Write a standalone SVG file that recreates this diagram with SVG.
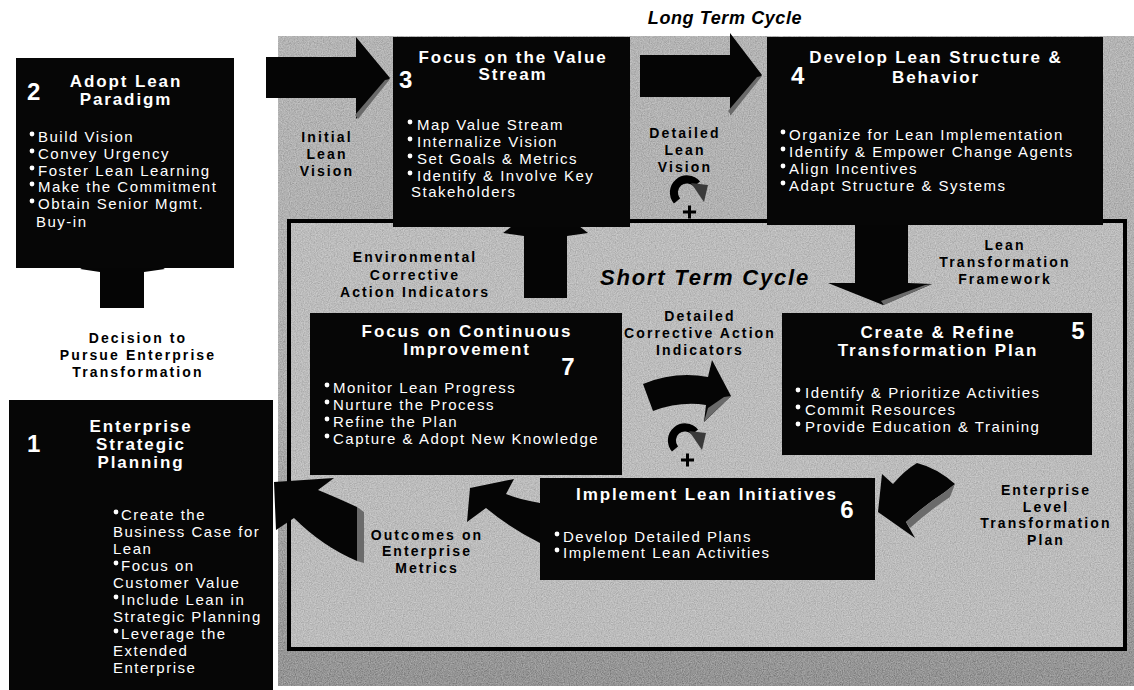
<svg xmlns="http://www.w3.org/2000/svg" width="1134" height="690" viewBox="0 0 1134 690">
<style>
.box{fill:#060606}
.t{font-family:"Liberation Sans",Arial,sans-serif;font-weight:bold;font-size:17px;fill:#fff;letter-spacing:1.9px;text-anchor:middle}
.b{font-family:"Liberation Sans",Arial,sans-serif;font-size:15px;fill:#fff;letter-spacing:1.5px}
.n{font-family:"Liberation Sans",Arial,sans-serif;font-weight:bold;font-size:24px;fill:#fff}
.l{font-family:"Liberation Sans",Arial,sans-serif;font-weight:bold;font-size:14px;fill:#000;letter-spacing:2.1px;text-anchor:middle}
.h{font-family:"Liberation Sans",Arial,sans-serif;font-weight:bold;font-style:italic;fill:#000;text-anchor:middle}
.dot{fill:#fff}
.arr{fill:#050505}
.bev{fill:#6a6a6a}
</style>
<defs>
<linearGradient id="outerG" x1="0" y1="0" x2="0" y2="1">
<stop offset="0" stop-color="#a3a3a3"/>
<stop offset="0.55" stop-color="#999999"/>
<stop offset="1" stop-color="#626262"/>
</linearGradient>
<filter id="grain" x="0" y="0" width="100%" height="100%">
<feTurbulence type="fractalNoise" baseFrequency="0.85" numOctaves="2" seed="4" result="n"/>
<feColorMatrix in="n" type="matrix" values="1 0 0 0 0.12  1 0 0 0 0.12  1 0 0 0 0.12  0 0 0 0 0.35" result="a"/>
<feComposite in="a" in2="SourceGraphic" operator="in" result="b"/>
<feMerge><feMergeNode in="SourceGraphic"/><feMergeNode in="b"/></feMerge>
</filter>
<g id="cyc">
<path d="M-13,9 A13,13 0 0 1 7,-8" stroke="#000" stroke-width="8" fill="none"/>
<polygon points="1,-9 18,-7 14,10" fill="#3a3a3a"/>
<path d="M-7,20h13M-0.5,13.5v13" stroke="#000" stroke-width="3"/>
</g>
</defs>
<rect width="1134" height="690" fill="#fff"/>
<g id="panels">
<rect x="278" y="36" width="856" height="650" fill="url(#outerG)" filter="url(#grain)"/>
<rect x="289" y="221" width="836" height="428" fill="#b0b0b0" filter="url(#grain)"/>
<rect x="289" y="221" width="836" height="428" fill="none" stroke="#000" stroke-width="4"/>
</g>
<g id="titles">
<text class="h" x="725" y="24" font-size="18" letter-spacing="0.6">Long Term Cycle</text>
<text class="h" x="705" y="285" font-size="22" letter-spacing="1.8">Short Term Cycle</text>
</g>
<g id="connectors">
<polygon class="arr" points="100,308 144,308 144,272 165,269 122,245 80,269 100,272"/>
<polygon class="arr" points="266,57 356,57 356,37 390,78 356,119 356,98 266,98"/>
<polygon class="bev" points="390,79 358,119 355,115 385,80"/>
<polygon class="arr" points="640,55 730,55 730,33 762,75 730,115 730,97 640,97"/>
<polygon class="bev" points="762,76 731,115 728,111 757,77"/>
<polygon class="arr" points="855,222 908,222 908,283 932,284 883,305 828,283 855,283"/>
<polygon class="bev" points="932,284 884,305 881,301 925,285"/>
<polygon class="arr" points="524,298 567,298 567,236 588,233 546,200 503,233 524,236"/>
<path class="arr" d="M643,384 Q675,371 708,377 L712,360 L731,396 L704,422 L706,405 Q680,401 653,411 Z"/>
<polygon class="bev" points="731,396 704,422 708,408 724,397"/>
<path class="arr" d="M917,463 Q937,468 955,484 L945,492 Q925,505 906,522 L915,538 L878,512 L882,474 L893,484 Q905,470 917,463 Z"/>
<path class="bev" d="M955,484 L945,492 Q925,505 906,522 L910,528 Q930,510 950,497 Z"/>
<path class="arr" d="M540,503 Q520,500 506,494 L514,479 L470,488 L467,522 L486,508 Q510,528 540,543 Z"/>
<path class="arr" d="M357,507 Q333,496 318,490 L334,478 L274,482 L276,530 L294,518 Q322,546 357,561 Z"/>
<polygon class="bev" points="357,507 364,512 364,563 357,561"/>
<use href="#cyc" x="690" y="192"/>
<use href="#cyc" x="688" y="440"/>
</g>
<g id="labels">
<text class="l" x="327" y="142">Initial</text>
<text class="l" x="327" y="159">Lean</text>
<text class="l" x="327" y="176">Vision</text>
<text class="l" x="685" y="138">Detailed</text>
<text class="l" x="685" y="155">Lean</text>
<text class="l" x="685" y="172">Vision</text>
<text class="l" x="1005" y="250">Lean</text>
<text class="l" x="1005" y="267">Transformation</text>
<text class="l" x="1005" y="284">Framework</text>
<text class="l" x="415" y="262">Environmental</text>
<text class="l" x="415" y="280">Corrective</text>
<text class="l" x="415" y="297">Action Indicators</text>
<text class="l" x="700" y="321">Detailed</text>
<text class="l" x="700" y="338">Corrective Action</text>
<text class="l" x="700" y="355">Indicators</text>
<text class="l" x="427" y="540">Outcomes on</text>
<text class="l" x="427" y="556">Enterprise</text>
<text class="l" x="427" y="573">Metrics</text>
<text class="l" x="1046" y="495">Enterprise</text>
<text class="l" x="1046" y="512">Level</text>
<text class="l" x="1046" y="528">Transformation</text>
<text class="l" x="1046" y="545">Plan</text>
<text class="l" x="138" y="343">Decision to</text>
<text class="l" x="138" y="360">Pursue Enterprise</text>
<text class="l" x="138" y="377">Transformation</text>
</g>
<g id="node2">
<rect class="box" x="16" y="58" width="218" height="210"/>
<text class="n" x="27" y="100">2</text>
<text class="t" x="126" y="87">Adopt Lean</text>
<text class="t" x="126" y="105">Paradigm</text>
<circle class="dot" cx="32" cy="134" r="2.4"/><text class="b" x="38" y="142">Build Vision</text>
<circle class="dot" cx="32" cy="151" r="2.4"/><text class="b" x="38" y="159">Convey Urgency</text>
<circle class="dot" cx="32" cy="168" r="2.4"/><text class="b" x="38" y="176">Foster Lean Learning</text>
<circle class="dot" cx="32" cy="184" r="2.4"/><text class="b" x="38" y="192">Make the Commitment</text>
<circle class="dot" cx="32" cy="201" r="2.4"/><text class="b" x="38" y="209">Obtain Senior Mgmt.</text>
<text class="b" x="36" y="227">Buy-in</text>
</g>
<g id="node3">
<rect class="box" x="393" y="37" width="237" height="190"/>
<text class="n" x="399" y="88">3</text>
<text class="t" x="513" y="63">Focus on the Value</text>
<text class="t" x="513" y="80">Stream</text>
<circle class="dot" cx="410" cy="122" r="2.4"/><text class="b" x="417" y="130">Map Value Stream</text>
<circle class="dot" cx="410" cy="139" r="2.4"/><text class="b" x="417" y="147">Internalize Vision</text>
<circle class="dot" cx="410" cy="156" r="2.4"/><text class="b" x="417" y="164">Set Goals &amp; Metrics</text>
<circle class="dot" cx="410" cy="173" r="2.4"/><text class="b" x="417" y="181">Identify &amp; Involve Key</text>
<text class="b" x="411" y="197">Stakeholders</text>
</g>
<g id="node4">
<rect class="box" x="767" y="37" width="336" height="188"/>
<text class="n" x="791" y="84">4</text>
<text class="t" x="936" y="63">Develop Lean Structure &amp;</text>
<text class="t" x="936" y="83">Behavior</text>
<circle class="dot" cx="783" cy="132" r="2.4"/><text class="b" x="789" y="140">Organize for Lean Implementation</text>
<circle class="dot" cx="783" cy="149" r="2.4"/><text class="b" x="789" y="157">Identify &amp; Empower Change Agents</text>
<circle class="dot" cx="783" cy="166" r="2.4"/><text class="b" x="789" y="174">Align Incentives</text>
<circle class="dot" cx="783" cy="183" r="2.4"/><text class="b" x="789" y="191">Adapt Structure &amp; Systems</text>
</g>
<g id="node5">
<rect class="box" x="782" y="313" width="310" height="142"/>
<text class="n" x="1078" y="339" text-anchor="middle">5</text>
<text class="t" x="938" y="338">Create &amp; Refine</text>
<text class="t" x="938" y="356">Transformation Plan</text>
<circle class="dot" cx="798" cy="390" r="2.4"/><text class="b" x="805" y="398">Identify &amp; Prioritize Activities</text>
<circle class="dot" cx="798" cy="407" r="2.4"/><text class="b" x="805" y="415">Commit Resources</text>
<circle class="dot" cx="798" cy="424" r="2.4"/><text class="b" x="805" y="432">Provide Education &amp; Training</text>
</g>
<g id="node7">
<rect class="box" x="310" y="313" width="312" height="162"/>
<text class="n" x="568" y="375" text-anchor="middle">7</text>
<text class="t" x="467" y="337">Focus on Continuous</text>
<text class="t" x="467" y="355">Improvement</text>
<circle class="dot" cx="327" cy="385" r="2.4"/><text class="b" x="333" y="393">Monitor Lean Progress</text>
<circle class="dot" cx="327" cy="402" r="2.4"/><text class="b" x="333" y="410">Nurture the Process</text>
<circle class="dot" cx="327" cy="419" r="2.4"/><text class="b" x="333" y="427">Refine the Plan</text>
<circle class="dot" cx="327" cy="436" r="2.4"/><text class="b" x="333" y="444">Capture &amp; Adopt New Knowledge</text>
</g>
<g id="node6">
<rect class="box" x="540" y="478" width="335" height="102"/>
<text class="n" x="847" y="518" text-anchor="middle">6</text>
<text class="t" x="707" y="500">Implement Lean Initiatives</text>
<circle class="dot" cx="557" cy="534" r="2.4"/><text class="b" x="563" y="542">Develop Detailed Plans</text>
<circle class="dot" cx="557" cy="550" r="2.4"/><text class="b" x="563" y="558">Implement Lean Activities</text>
</g>
<g id="node1">
<rect class="box" x="9" y="400" width="264" height="290"/>
<text class="n" x="27" y="452">1</text>
<text class="t" x="141" y="432">Enterprise</text>
<text class="t" x="141" y="450">Strategic</text>
<text class="t" x="141" y="468">Planning</text>
<circle class="dot" cx="116" cy="512" r="2.4"/><text class="b" x="121" y="520">Create the</text>
<text class="b" x="113" y="537">Business Case for</text>
<text class="b" x="113" y="554">Lean</text>
<circle class="dot" cx="116" cy="563" r="2.4"/><text class="b" x="121" y="571">Focus on</text>
<text class="b" x="113" y="588">Customer Value</text>
<circle class="dot" cx="116" cy="597" r="2.4"/><text class="b" x="121" y="605">Include Lean in</text>
<text class="b" x="113" y="622">Strategic Planning</text>
<circle class="dot" cx="116" cy="631" r="2.4"/><text class="b" x="121" y="639">Leverage the</text>
<text class="b" x="113" y="656">Extended</text>
<text class="b" x="113" y="673">Enterprise</text>
</g>
</svg>
